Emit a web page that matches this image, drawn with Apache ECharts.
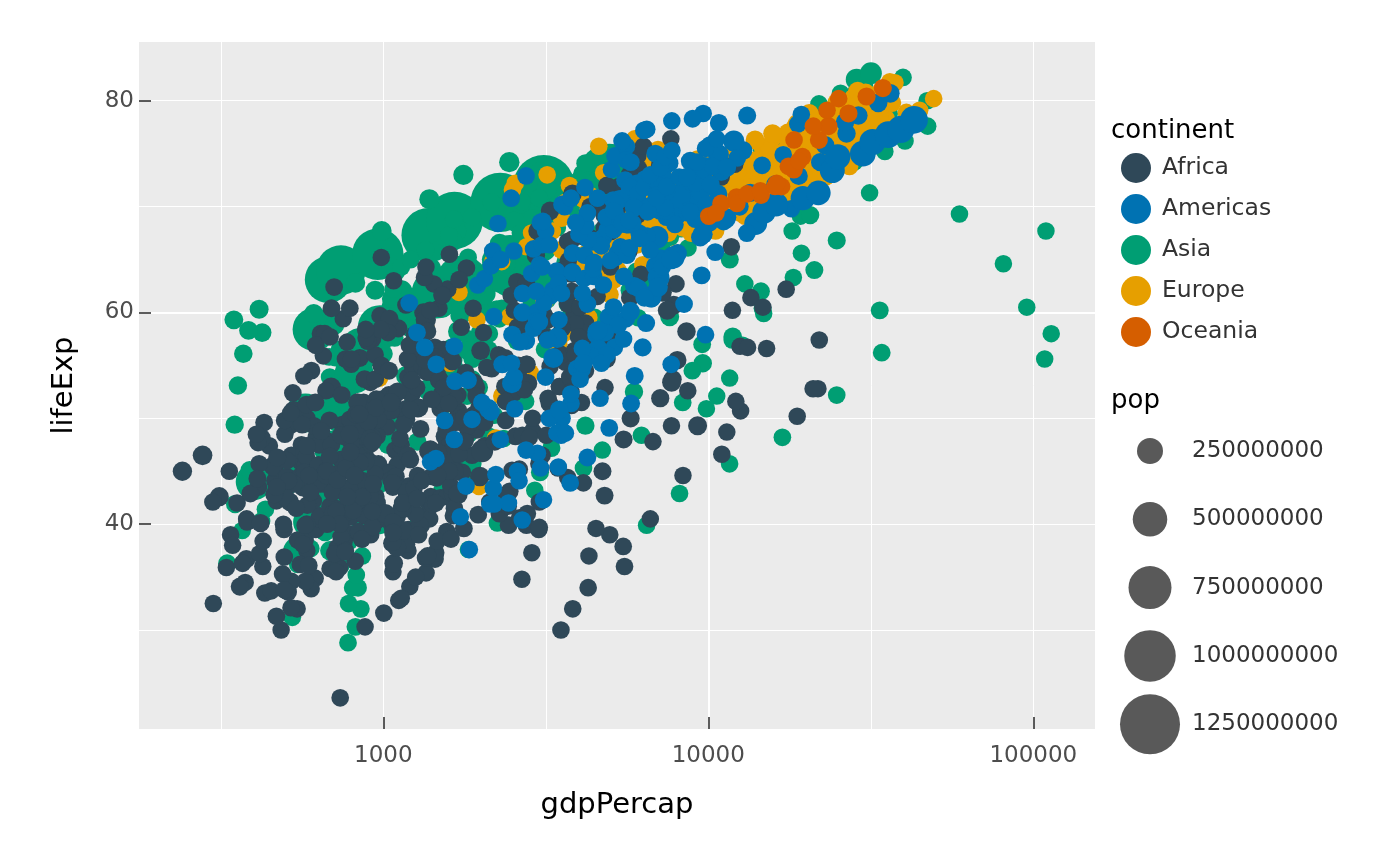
<!DOCTYPE html>
<html>
<head>
<meta charset="utf-8">
<title>gapminder: lifeExp vs gdpPercap</title>
<script src="https://cdn.jsdelivr.net/npm/echarts@6/dist/echarts.min.js"></script>
<style>
  html, body { margin: 0; padding: 0; background: #ffffff; }
  #chart { width: 1400px; height: 866px; }
</style>
</head>
<body>
<div id="chart"></div>
<script>
// one row per country, 12 values per row (1952 .. 2007, every 5 years)
// pop is in millions

var africaGdp = [
  2449, 3014, 2551, 3247, 4183, 4910, 5745, 5681, 5023, 4797, 5288, 6223,
  3521, 3828, 4269, 5523, 5473, 3009, 2757, 2430, 2628, 2277, 2773, 4797,
  1063, 960, 949, 1036, 1086, 1029, 1278, 1226, 1191, 1233, 1373, 1441,
  851, 918, 984, 1215, 2264, 3215, 4551, 6206, 7954, 8647, 11004, 12570,
  543, 617, 722, 795, 855, 743, 807, 912, 932, 946, 1038, 1217,
  339, 380, 355, 413, 464, 556, 560, 622, 632, 463, 446, 430,
  1173, 1313, 1400, 1508, 1684, 1783, 2368, 2603, 1793, 1694, 1934, 2042,
  1071, 1191, 1193, 1137, 1070, 1109, 957, 845, 748, 741, 738, 706,
  1179, 1308, 1390, 1197, 1104, 1134, 798, 952, 1058, 1005, 1156, 1704,
  1103, 1211, 1407, 1876, 1938, 1173, 1267, 1316, 1247, 1174, 1076, 986,
  781, 906, 896, 862, 905, 796, 674, 672, 458, 313, 241, 278,
  2126, 2490, 2679, 3214, 3259, 4880, 4879, 4201, 4016, 3485, 3484, 3633,
  1389, 1501, 1729, 2052, 2379, 2518, 2603, 2157, 1648, 1786, 1649, 1545,
  2670, 2865, 3021, 3020, 3694, 3082, 2880, 2880, 2377, 1896, 1908, 2082,
  1419, 1459, 1693, 1815, 2024, 2785, 3504, 3885, 3795, 4173, 4755, 5581,
  376, 426, 582, 915, 672, 958, 927, 966, 1132, 2815, 7703, 12154,
  329, 344, 381, 469, 515, 505, 525, 521, 582, 913, 765, 641,
  362, 379, 419, 516, 566, 556, 577, 574, 421, 516, 530, 691,
  4293, 4976, 6631, 8359, 11402, 21746, 15113, 11864, 13522, 14723, 12522, 13206,
  485, 520, 600, 734, 757, 884, 836, 612, 666, 654, 661, 753,
  911, 1044, 1190, 1126, 1178, 993, 876, 847, 925, 1005, 1112, 1328,
  510, 576, 686, 708, 741, 874, 857, 805, 795, 870, 945, 943,
  300, 432, 522, 716, 820, 765, 839, 736, 745, 797, 576, 580,
  854, 944, 897, 1057, 1222, 1268, 1348, 1362, 1342, 1360, 1288, 1463,
  299, 336, 412, 498, 497, 745, 797, 774, 977, 1187, 1275, 1569,
  575, 620, 634, 713, 803, 641, 573, 506, 637, 609, 531, 415,
  2388, 3448, 6757, 18773, 21011, 21951, 17364, 11770, 9641, 9468, 9535, 12057,
  1443, 1589, 1644, 1634, 1749, 1545, 1302, 1155, 1040, 986, 895, 1045,
  369, 416, 427, 495, 584, 664, 632, 635, 563, 692, 665, 759,
  452, 490, 496, 545, 581, 686, 618, 684, 740, 790, 952, 1042,
  744, 847, 1055, 1421, 1586, 1497, 1481, 1421, 1361, 1483, 1579, 1803,
  1968, 2034, 2530, 2475, 2575, 3710, 3689, 4783, 6058, 7426, 9022, 10957,
  1688, 1643, 1566, 1711, 1931, 2371, 2703, 2756, 2948, 2982, 3259, 3820,
  469, 496, 556, 566, 725, 502, 462, 390, 410, 472, 634, 824,
  2424, 2622, 3173, 3793, 3747, 3876, 4191, 3694, 3805, 3899, 4072, 4811,
  762, 860, 1072, 1054, 954, 809, 909, 668, 582, 580, 601, 620,
  1077, 1101, 1151, 1015, 1698, 1982, 1577, 1385, 1620, 1625, 1615, 2014,
  2719, 2769, 3174, 4021, 4998, 4319, 5268, 5303, 6101, 6072, 6316, 7670,
  493, 540, 597, 511, 591, 670, 882, 848, 737, 590, 786, 863,
  880, 861, 1072, 1385, 1533, 1738, 1890, 1517, 1429, 1339, 1353, 1598,
  1450, 1568, 1655, 1613, 1597, 1562, 1518, 1441, 1367, 1393, 1519, 1712,
  879, 1004, 1116, 1207, 1354, 1349, 1465, 1294, 1069, 575, 699, 863,
  1136, 1258, 1369, 1285, 1254, 1450, 1177, 1094, 927, 931, 882, 926,
  4725, 5487, 5769, 7114, 7765, 8029, 8568, 7826, 7225, 7479, 7710, 9270,
  1615, 1770, 1959, 1687, 1660, 2203, 1895, 1507, 1493, 1632, 1993, 2602,
  1149, 1244, 1597, 1711, 2052, 3782, 3896, 3985, 3553, 3877, 4128, 4513,
  717, 698, 722, 848, 916, 962, 875, 832, 825, 789, 899, 1107,
  859, 926, 1068, 1477, 1650, 1533, 1345, 1203, 1034, 982, 886, 883,
  1469, 1396, 1660, 1932, 2753, 3120, 3561, 3811, 4333, 4877, 5723, 7093,
  735, 775, 768, 908, 950, 844, 683, 618, 644, 816, 927, 1056,
  1147, 1312, 1453, 1777, 1773, 1589, 1409, 1213, 1211, 1071, 1072, 1271,
  407, 519, 527, 570, 799, 686, 789, 706, 693, 792, 672, 470
];
var africaLife = [
  43.1, 45.7, 48.3, 51.4, 54.5, 58.0, 61.4, 65.8, 67.7, 69.2, 71.0, 72.3,
  30.0, 32.0, 34.0, 36.0, 37.9, 39.5, 39.9, 39.9, 40.6, 41.0, 41.0, 42.7,
  38.2, 40.4, 42.6, 44.9, 47.0, 49.2, 50.9, 52.3, 53.9, 54.8, 54.4, 56.7,
  47.6, 49.6, 51.5, 53.3, 56.0, 59.3, 61.5, 63.6, 62.7, 52.6, 46.6, 50.7,
  32.0, 34.9, 37.8, 40.7, 43.6, 46.1, 48.1, 49.6, 50.3, 50.3, 50.7, 52.3,
  39.0, 40.5, 42.0, 43.5, 44.1, 45.9, 47.5, 48.2, 44.7, 45.3, 47.4, 49.6,
  38.5, 40.4, 42.6, 44.8, 47.0, 49.4, 53.0, 55.0, 54.3, 52.2, 49.9, 50.4,
  35.5, 37.5, 39.5, 41.5, 43.5, 46.8, 48.3, 50.5, 49.4, 46.1, 43.3, 44.7,
  38.1, 39.9, 41.7, 43.6, 45.6, 47.4, 49.5, 51.1, 51.7, 51.6, 50.5, 50.7,
  40.7, 42.5, 44.5, 46.5, 48.9, 50.9, 52.9, 54.9, 57.9, 60.7, 63.0, 65.2,
  39.1, 40.7, 42.1, 44.1, 45.9, 47.8, 47.8, 47.4, 45.5, 42.6, 45.0, 46.5,
  42.1, 45.1, 48.4, 51.9, 54.9, 55.6, 56.7, 57.5, 56.4, 53.0, 53.0, 55.3,
  40.5, 42.5, 44.9, 47.4, 49.8, 52.4, 54.0, 54.7, 52.0, 48.0, 46.8, 48.3,
  34.8, 37.3, 39.7, 42.1, 44.4, 46.5, 48.8, 50.0, 51.6, 53.2, 53.4, 54.8,
  41.9, 44.4, 47.0, 49.3, 51.1, 53.3, 56.0, 59.8, 63.7, 67.2, 69.8, 71.3,
  34.5, 36.0, 37.5, 39.0, 40.5, 42.0, 43.7, 45.7, 47.5, 48.2, 49.3, 51.6,
  35.9, 38.0, 40.2, 42.2, 44.1, 44.5, 43.9, 46.5, 50.0, 53.4, 55.6, 58.0,
  34.1, 36.7, 40.1, 42.1, 43.5, 44.5, 44.9, 46.7, 48.1, 49.4, 50.7, 52.9,
  37.0, 39.0, 40.5, 44.6, 48.7, 52.8, 56.6, 60.2, 61.4, 60.5, 56.8, 56.7,
  30.0, 32.1, 33.9, 35.9, 38.3, 41.8, 45.6, 49.3, 52.6, 55.9, 58.0, 59.4,
  43.1, 44.8, 46.5, 48.1, 49.9, 51.8, 53.7, 55.7, 57.5, 58.6, 58.5, 60.0,
  33.6, 34.6, 35.8, 37.2, 38.8, 40.8, 42.9, 45.2, 48.6, 51.5, 53.7, 56.0,
  32.5, 33.5, 34.6, 35.5, 36.5, 37.5, 39.3, 41.2, 43.3, 44.9, 45.5, 46.4,
  42.3, 44.7, 47.9, 50.7, 53.6, 56.2, 58.8, 59.3, 59.3, 54.4, 51.0, 54.1,
  42.1, 45.0, 47.7, 48.5, 49.8, 52.2, 55.1, 57.2, 59.7, 55.6, 44.6, 42.6,
  38.5, 39.5, 40.5, 41.5, 42.6, 43.8, 44.9, 46.0, 40.8, 42.2, 43.8, 45.7,
  42.7, 45.3, 47.8, 50.2, 52.8, 57.4, 62.2, 66.2, 68.8, 70.9, 72.7, 74.0,
  36.7, 38.9, 40.8, 42.9, 44.9, 46.9, 49.0, 49.4, 52.2, 55.0, 57.3, 59.4,
  36.3, 37.2, 38.4, 39.5, 41.8, 43.8, 45.6, 47.5, 49.4, 47.5, 45.0, 48.3,
  33.7, 35.3, 36.9, 38.5, 40.0, 41.7, 43.9, 46.4, 48.4, 49.9, 51.8, 54.5,
  40.5, 42.3, 44.2, 46.3, 48.4, 50.9, 53.6, 56.1, 58.3, 60.4, 62.2, 64.2,
  51.0, 58.1, 60.2, 61.6, 62.9, 64.9, 66.7, 68.0, 69.2, 71.0, 72.0, 72.8,
  42.9, 45.4, 47.9, 50.3, 52.9, 55.7, 59.6, 62.7, 65.4, 67.7, 69.6, 71.2,
  31.3, 33.8, 36.2, 38.1, 40.3, 42.5, 42.8, 42.9, 44.3, 46.3, 44.0, 42.1,
  41.7, 45.2, 48.4, 51.2, 53.9, 56.4, 59.0, 60.8, 62.0, 58.9, 51.5, 52.9,
  37.4, 38.6, 39.5, 40.1, 40.5, 41.3, 42.6, 44.6, 47.4, 51.3, 54.5, 56.9,
  36.3, 37.8, 39.4, 41.0, 42.8, 44.5, 45.8, 46.9, 47.5, 47.5, 46.6, 46.9,
  52.7, 55.1, 57.7, 60.5, 64.3, 67.1, 69.9, 71.9, 73.6, 74.8, 75.7, 76.4,
  40.0, 41.5, 43.0, 44.1, 44.6, 45.0, 46.2, 44.0, 23.6, 36.1, 43.4, 46.2,
  46.5, 48.9, 51.9, 54.4, 56.5, 58.6, 60.4, 61.7, 62.7, 63.3, 64.3, 65.5,
  37.3, 39.3, 41.5, 43.6, 45.8, 48.9, 52.4, 55.8, 58.2, 60.2, 61.6, 63.1,
  30.3, 31.6, 32.8, 34.1, 35.4, 36.8, 38.4, 40.0, 38.3, 39.9, 41.0, 42.6,
  33.0, 35.0, 37.0, 39.0, 41.0, 42.0, 43.0, 44.5, 39.7, 43.8, 45.9, 48.2,
  45.0, 48.0, 50.0, 51.9, 53.7, 55.5, 58.2, 60.7, 61.9, 60.2, 53.4, 49.3,
  38.6, 39.6, 40.9, 42.9, 45.0, 47.8, 50.3, 51.7, 53.6, 55.4, 56.4, 58.6,
  41.4, 43.4, 45.0, 46.6, 49.6, 52.5, 56.0, 57.7, 58.5, 54.3, 43.9, 39.6,
  41.2, 43.0, 44.2, 45.8, 47.6, 49.9, 50.6, 51.5, 50.4, 48.5, 49.7, 52.5,
  38.6, 41.2, 43.9, 46.8, 49.8, 52.9, 55.5, 56.9, 58.1, 58.4, 57.6, 58.4,
  44.6, 47.1, 49.6, 52.1, 55.1, 59.8, 64.0, 66.9, 70.0, 72.0, 73.0, 73.9,
  40.0, 42.6, 45.3, 48.1, 51.0, 50.4, 49.8, 51.5, 48.8, 44.6, 47.8, 51.5,
  42.0, 44.1, 46.0, 47.8, 50.1, 51.4, 51.8, 50.8, 46.1, 40.2, 39.2, 42.4,
  48.5, 50.5, 52.4, 54.0, 55.6, 57.7, 60.4, 62.4, 60.4, 46.8, 40.0, 43.5
];
var africaPop = [
  9.3, 10.3, 11.0, 12.8, 14.8, 17.2, 20.0, 23.3, 26.3, 29.1, 31.3, 33.3,
  4.2, 4.6, 4.8, 5.2, 5.9, 6.2, 7.0, 7.9, 8.7, 9.9, 10.9, 12.4,
  1.7, 1.9, 2.2, 2.4, 2.8, 3.2, 3.6, 4.2, 5.0, 6.1, 7.0, 8.1,
  0.4, 0.5, 0.5, 0.6, 0.7, 0.8, 1.0, 1.2, 1.3, 1.5, 1.6, 1.6,
  4.5, 4.7, 4.9, 5.1, 5.4, 5.9, 6.6, 7.6, 8.9, 10.4, 12.3, 14.3,
  2.4, 2.7, 2.9, 3.3, 3.5, 3.8, 4.6, 5.1, 5.8, 6.1, 7.0, 8.4,
  5.0, 5.4, 5.8, 6.3, 7.0, 8.0, 9.3, 10.8, 12.5, 14.2, 15.9, 17.7,
  1.3, 1.4, 1.5, 1.7, 1.8, 2.0, 2.5, 2.8, 3.3, 3.7, 4.0, 4.4,
  2.7, 2.9, 3.2, 3.5, 3.9, 4.4, 4.9, 5.5, 6.4, 7.6, 8.8, 10.2,
  0.2, 0.2, 0.2, 0.2, 0.3, 0.3, 0.4, 0.4, 0.5, 0.5, 0.6, 0.7,
  14.1, 15.6, 17.5, 19.9, 23.0, 26.5, 30.6, 35.5, 41.7, 47.8, 55.4, 64.6,
  0.9, 0.9, 1.1, 1.2, 1.3, 1.5, 1.8, 2.1, 2.4, 2.8, 3.3, 3.8,
  3.0, 3.3, 3.8, 4.7, 6.1, 7.5, 9.0, 10.8, 12.5, 14.6, 16.3, 18.0,
  0.1, 0.1, 0.1, 0.1, 0.2, 0.2, 0.3, 0.4, 0.4, 0.4, 0.5, 0.5,
  22.2, 25.0, 28.2, 31.7, 34.8, 38.8, 45.7, 52.8, 59.4, 66.1, 73.3, 80.3,
  0.2, 0.2, 0.3, 0.3, 0.3, 0.2, 0.3, 0.3, 0.4, 0.4, 0.5, 0.6,
  1.4, 1.5, 1.7, 1.8, 2.3, 2.5, 2.6, 2.9, 3.7, 3.4, 4.4, 4.9,
  20.9, 22.8, 25.1, 27.9, 31.2, 34.6, 38.1, 43.0, 52.1, 59.9, 67.9, 76.5,
  0.4, 0.4, 0.5, 0.5, 0.5, 0.7, 0.8, 0.9, 1.0, 1.1, 1.3, 1.5,
  0.3, 0.3, 0.4, 0.4, 0.5, 0.6, 0.7, 0.9, 1.0, 1.2, 1.5, 1.7,
  5.6, 6.4, 7.4, 8.5, 9.4, 10.5, 11.4, 14.2, 16.3, 18.4, 20.6, 22.9,
  2.7, 3.1, 3.3, 3.5, 3.9, 4.2, 4.7, 5.1, 7.0, 8.0, 8.8, 9.9,
  0.6, 0.6, 0.6, 0.6, 0.6, 0.8, 0.8, 0.9, 1.1, 1.2, 1.3, 1.5,
  6.5, 7.5, 8.7, 10.2, 12.0, 14.5, 17.7, 21.2, 25.0, 28.3, 31.4, 35.6,
  0.8, 0.8, 0.9, 0.9, 1.1, 1.3, 1.4, 1.6, 1.8, 2.0, 2.1, 2.0,
  0.9, 1.0, 1.1, 1.3, 1.5, 1.7, 2.0, 2.3, 1.9, 2.2, 2.7, 3.2,
  1.0, 1.2, 1.4, 1.8, 2.2, 2.7, 3.3, 3.8, 4.4, 4.8, 5.4, 6.0,
  4.8, 5.2, 5.7, 6.3, 7.1, 8.0, 9.2, 10.6, 12.2, 14.2, 16.5, 19.2,
  2.9, 3.2, 3.6, 4.1, 4.7, 5.6, 6.5, 7.8, 10.0, 10.4, 11.8, 13.3,
  3.8, 4.2, 4.7, 5.3, 5.8, 6.5, 7.0, 7.6, 8.4, 9.4, 10.6, 12.0,
  1.0, 1.1, 1.1, 1.3, 1.3, 1.4, 1.6, 1.8, 2.1, 2.4, 2.8, 3.3,
  0.5, 0.6, 0.7, 0.8, 0.9, 0.9, 1.0, 1.0, 1.1, 1.2, 1.2, 1.3,
  9.9, 11.4, 13.1, 14.8, 16.7, 18.4, 20.2, 23.0, 25.8, 28.5, 31.2, 33.8,
  6.4, 7.0, 7.8, 8.7, 9.8, 11.1, 12.6, 12.9, 13.2, 16.6, 18.5, 20.0,
  0.5, 0.6, 0.6, 0.7, 0.8, 1.0, 1.1, 1.3, 1.6, 1.8, 2.0, 2.1,
  3.4, 3.7, 4.1, 4.5, 5.1, 5.7, 6.4, 7.3, 8.4, 9.7, 11.1, 12.9,
  33.1, 37.2, 41.9, 47.3, 53.7, 62.2, 73.0, 81.6, 93.4, 106.2, 119.9, 135.0,
  0.3, 0.3, 0.4, 0.4, 0.5, 0.5, 0.5, 0.6, 0.6, 0.7, 0.7, 0.8,
  2.5, 2.7, 3.1, 3.5, 4.0, 4.7, 5.5, 6.3, 7.3, 7.2, 7.9, 8.9,
  0.1, 0.1, 0.1, 0.1, 0.1, 0.1, 0.1, 0.1, 0.1, 0.2, 0.2, 0.2,
  2.8, 3.1, 3.4, 4.0, 4.6, 5.3, 6.1, 7.0, 8.3, 9.5, 10.9, 12.3,
  2.1, 2.3, 2.5, 2.7, 2.9, 3.1, 3.5, 3.9, 4.3, 4.6, 5.4, 6.1,
  2.5, 2.7, 3.1, 3.4, 3.8, 4.4, 5.8, 6.2, 6.1, 6.6, 7.8, 9.1,
  14.3, 16.2, 18.4, 21.0, 23.9, 27.1, 31.1, 35.9, 40.0, 42.8, 44.4, 44.0,
  8.5, 9.8, 11.2, 12.7, 14.6, 17.1, 20.4, 24.7, 28.2, 32.2, 37.1, 42.3,
  0.3, 0.3, 0.4, 0.4, 0.5, 0.6, 0.7, 0.8, 1.0, 1.1, 1.1, 1.1,
  8.3, 9.5, 10.9, 12.6, 14.7, 17.1, 19.8, 23.0, 26.6, 30.7, 34.6, 38.1,
  1.2, 1.4, 1.5, 1.7, 2.1, 2.3, 2.6, 3.2, 3.7, 4.3, 5.0, 5.7,
  3.6, 4.0, 4.3, 4.8, 5.3, 6.0, 6.7, 7.7, 8.5, 9.2, 9.8, 10.3,
  5.8, 6.7, 7.7, 8.9, 10.2, 11.5, 12.9, 15.3, 18.3, 21.2, 24.7, 29.2,
  2.7, 3.0, 3.4, 3.9, 4.5, 5.2, 6.1, 7.3, 8.4, 9.4, 10.6, 11.7,
  3.1, 3.6, 4.3, 5.0, 5.9, 6.6, 7.6, 9.2, 10.7, 11.4, 11.9, 12.3
];

var americasGdp = [
  5911, 6857, 7133, 8053, 9443, 10079, 8998, 9140, 9308, 10967, 8798, 12779,
  2677, 2128, 2181, 2587, 2980, 3548, 3157, 2754, 2962, 3326, 3413, 3822,
  2109, 2487, 3337, 3430, 4986, 6660, 7031, 7807, 6950, 7958, 8131, 9066,
  11367, 12490, 13462, 16077, 18971, 22091, 22899, 26627, 26343, 28955, 33329, 36319,
  3940, 4316, 4519, 5107, 5494, 4757, 5096, 5547, 7596, 10118, 10779, 13172,
  2144, 2324, 2492, 2679, 3265, 3816, 4398, 4903, 5445, 6118, 5755, 7007,
  2628, 2990, 3461, 4161, 5119, 5489, 5036, 5160, 5599, 6465, 7723, 9645,
  5587, 6092, 5181, 5690, 5305, 6380, 7317, 7533, 5593, 5432, 6341, 8948,
  1398, 1545, 1662, 1653, 2189, 2682, 2862, 2900, 3045, 3614, 4564, 6025,
  3522, 3781, 4086, 4580, 5281, 6680, 7213, 6482, 7104, 7430, 5773, 6873,
  3048, 3421, 3777, 4359, 4520, 5139, 4098, 4141, 4444, 5155, 5352, 5728,
  2428, 2617, 2750, 3243, 4031, 4880, 4820, 4247, 4439, 4684, 4858, 5186,
  1840, 1726, 1797, 1452, 1654, 1875, 2011, 1823, 1456, 1342, 1270, 1202,
  2195, 2220, 2292, 2538, 2529, 3203, 3121, 3023, 3082, 3160, 3099, 3548,
  2899, 4757, 5246, 6125, 7434, 6650, 6068, 6351, 7405, 7122, 6995, 7321,
  3478, 4132, 4582, 5755, 7011, 7675, 9611, 8688, 9472, 9767, 10742, 11978,
  3112, 3457, 3634, 4644, 4689, 5487, 3471, 2955, 2171, 2253, 2475, 2749,
  2480, 2961, 3536, 4421, 5364, 5352, 7009, 7035, 6619, 7114, 7357, 9809,
  1952, 2047, 2148, 2299, 2523, 3248, 4259, 3999, 4197, 4247, 3783, 4173,
  3759, 4246, 4957, 5788, 5938, 6281, 6435, 6361, 4446, 5838, 5909, 7409,
  3082, 3908, 5108, 6930, 9123, 9771, 10331, 12281, 14642, 16999, 18856, 19329,
  3023, 4100, 4997, 5621, 6620, 7899, 9119, 7389, 7370, 8793, 11461, 18009,
  13990, 14847, 16173, 19530, 21806, 24073, 25010, 29884, 32004, 35767, 39097, 42952,
  5717, 6151, 5603, 5445, 5703, 6504, 6920, 7452, 8138, 9230, 7727, 10611,
  7690, 9803, 8423, 9541, 10506, 13144, 11153, 9884, 10733, 10165, 8606, 11416
];
var americasLife = [
  62.5, 64.4, 65.1, 65.6, 67.1, 68.5, 69.9, 70.8, 71.9, 73.3, 74.3, 75.3,
  40.4, 41.9, 43.4, 45.0, 46.7, 50.0, 53.9, 57.3, 60.0, 62.1, 63.9, 65.6,
  50.9, 53.3, 55.7, 57.6, 59.5, 61.5, 63.3, 65.2, 67.1, 69.4, 71.0, 72.4,
  68.8, 70.0, 71.3, 72.1, 72.9, 74.2, 75.8, 76.9, 78.0, 78.6, 79.8, 80.7,
  54.7, 56.1, 57.9, 60.5, 63.4, 67.1, 70.6, 72.5, 74.1, 75.8, 77.9, 78.6,
  50.6, 55.1, 57.9, 60.0, 61.6, 63.8, 66.7, 67.8, 68.4, 70.3, 71.7, 72.9,
  57.2, 60.0, 62.8, 65.4, 67.8, 70.8, 73.5, 74.8, 75.7, 77.3, 78.1, 78.8,
  59.4, 62.3, 65.2, 68.3, 70.7, 72.6, 73.7, 74.2, 74.4, 76.2, 77.2, 78.3,
  45.9, 49.8, 53.5, 56.8, 59.6, 61.8, 63.7, 66.0, 68.5, 70.0, 70.8, 72.2,
  48.4, 51.4, 54.6, 56.7, 58.8, 61.3, 64.3, 67.2, 69.6, 72.3, 74.2, 75.0,
  45.3, 48.6, 52.3, 55.9, 58.2, 56.7, 56.6, 63.2, 66.8, 69.5, 70.7, 71.9,
  42.0, 44.1, 47.0, 50.0, 53.7, 56.0, 58.1, 60.8, 63.4, 66.3, 69.0, 70.3,
  37.6, 40.7, 43.6, 46.2, 48.0, 49.9, 51.5, 53.6, 55.1, 56.7, 58.1, 60.9,
  41.9, 44.7, 48.0, 50.9, 53.9, 57.4, 60.9, 64.5, 66.4, 67.7, 68.6, 70.2,
  58.5, 62.6, 65.6, 67.5, 69.0, 70.1, 71.2, 71.8, 71.8, 72.3, 72.0, 72.6,
  50.8, 55.2, 58.3, 60.1, 62.4, 65.0, 67.4, 69.5, 71.5, 73.7, 74.9, 76.2,
  42.3, 45.4, 48.6, 51.9, 55.2, 57.5, 59.3, 62.0, 65.8, 68.4, 70.8, 72.9,
  55.2, 59.2, 61.8, 64.1, 66.2, 68.7, 70.5, 72.0, 73.0, 73.7, 74.7, 75.5,
  62.6, 63.2, 64.4, 65.0, 65.8, 66.4, 66.9, 67.4, 68.2, 69.4, 70.8, 71.8,
  43.9, 46.3, 49.1, 51.4, 54.0, 56.7, 59.0, 61.4, 64.7, 68.4, 69.9, 71.4,
  64.3, 68.5, 69.6, 71.1, 72.2, 73.4, 73.8, 74.6, 73.9, 74.9, 77.8, 78.7,
  59.1, 61.8, 64.9, 65.4, 65.9, 68.3, 68.8, 69.6, 69.9, 69.5, 69.0, 69.8,
  68.4, 69.5, 70.2, 70.8, 71.3, 73.4, 74.7, 75.0, 76.1, 76.8, 77.3, 78.2,
  66.1, 67.0, 68.3, 68.5, 68.7, 69.5, 70.8, 71.9, 72.8, 74.2, 75.3, 76.4,
  55.1, 57.9, 60.8, 63.5, 65.7, 67.5, 68.6, 70.2, 71.2, 72.1, 72.8, 73.7
];
var americasPop = [
  17.9, 19.6, 21.3, 22.9, 24.8, 27.0, 29.3, 31.6, 34.0, 36.2, 38.3, 40.3,
  2.9, 3.2, 3.6, 4.0, 4.6, 5.1, 5.6, 6.2, 6.9, 7.7, 8.4, 9.1,
  56.6, 65.6, 76.0, 88.0, 100.8, 114.3, 128.9, 142.9, 156.0, 168.5, 179.9, 190.0,
  14.8, 17.0, 19.0, 20.8, 22.3, 23.8, 25.2, 26.5, 28.5, 30.3, 31.9, 33.4,
  6.4, 7.0, 8.0, 8.9, 9.7, 10.6, 11.5, 12.5, 13.6, 14.6, 15.5, 16.3,
  12.4, 14.5, 17.0, 19.8, 22.5, 25.1, 27.8, 31.0, 34.2, 37.7, 41.0, 44.2,
  0.9, 1.1, 1.3, 1.6, 1.8, 2.1, 2.4, 2.8, 3.2, 3.5, 3.8, 4.1,
  6.0, 6.6, 7.3, 8.1, 8.8, 9.5, 9.8, 10.2, 10.7, 11.0, 11.2, 11.4,
  2.5, 2.9, 3.5, 4.0, 4.7, 5.3, 6.0, 6.7, 7.4, 8.0, 8.7, 9.3,
  3.5, 4.1, 4.7, 5.4, 6.3, 7.3, 8.4, 9.5, 10.7, 12.0, 12.9, 13.8,
  2.0, 2.3, 2.7, 3.2, 3.8, 4.3, 4.5, 4.8, 5.3, 5.8, 6.4, 6.9,
  3.1, 3.6, 4.2, 4.7, 5.4, 6.2, 7.0, 7.9, 9.0, 10.3, 11.2, 12.6,
  3.2, 3.5, 3.9, 4.3, 4.7, 5.0, 5.2, 5.7, 6.3, 6.9, 7.6, 8.5,
  1.5, 1.8, 2.1, 2.5, 2.9, 3.3, 3.7, 4.4, 5.1, 5.9, 6.7, 7.5,
  1.4, 1.5, 1.7, 1.9, 2.0, 2.2, 2.3, 2.3, 2.4, 2.5, 2.7, 2.8,
  30.1, 35.0, 41.1, 48.0, 56.0, 63.8, 71.6, 80.1, 88.1, 95.9, 102.5, 108.7,
  1.2, 1.4, 1.6, 1.9, 2.2, 2.6, 3.0, 3.3, 4.0, 4.6, 5.1, 5.7,
  0.9, 1.1, 1.2, 1.4, 1.6, 1.8, 2.0, 2.3, 2.5, 2.7, 3.0, 3.2,
  1.6, 1.8, 2.0, 2.3, 2.6, 3.0, 3.4, 4.0, 4.5, 5.2, 5.9, 6.7,
  8.0, 9.1, 10.5, 12.1, 14.0, 16.0, 18.1, 20.2, 22.4, 25.0, 26.8, 28.7,
  2.2, 2.3, 2.4, 2.7, 2.8, 3.1, 3.3, 3.4, 3.6, 3.8, 3.9, 3.9,
  0.7, 0.8, 0.9, 1.0, 1.0, 1.0, 1.1, 1.2, 1.2, 1.1, 1.1, 1.1,
  157.6, 172.0, 186.5, 198.7, 209.9, 220.2, 232.2, 242.8, 256.9, 272.9, 287.7, 301.1,
  2.3, 2.4, 2.5, 2.7, 2.8, 2.9, 3.0, 3.0, 3.1, 3.2, 3.4, 3.4,
  5.4, 6.7, 8.1, 9.7, 11.5, 13.5, 15.6, 17.9, 20.3, 22.9, 24.3, 26.1
];

var asiaGdp = [
  779, 821, 853, 836, 740, 786, 978, 852, 649, 635, 727, 975,
  9867, 11636, 12753, 14805, 18269, 19340, 19211, 18524, 19036, 20292, 23404, 29796,
  684, 662, 686, 721, 630, 660, 677, 752, 838, 973, 1136, 1391,
  368, 434, 497, 523, 422, 525, 624, 684, 682, 734, 896, 1714,
  400, 576, 488, 613, 677, 741, 962, 1379, 1656, 2289, 3119, 4959,
  3054, 3629, 4693, 6198, 8316, 11186, 14561, 20038, 24758, 28378, 30209, 39725,
  547, 590, 658, 700, 724, 813, 856, 977, 1164, 1459, 1747, 2452,
  750, 859, 849, 762, 1111, 1383, 1517, 1748, 2383, 3119, 2874, 3541,
  3035, 3290, 4187, 5907, 9613, 11889, 7608, 6642, 7235, 8264, 9241, 11606,
  4130, 6229, 8342, 8931, 9576, 14688, 14518, 11644, 3746, 3076, 4391, 4471,
  4087, 5385, 7106, 8393, 12786, 13306, 15367, 17122, 18051, 20897, 21905, 25523,
  3217, 4318, 6577, 9848, 14779, 16610, 19384, 22376, 26825, 28817, 28605, 31656,
  1547, 1886, 2348, 2742, 2110, 2852, 4161, 4449, 3431, 3645, 3845, 4519,
  1088, 1571, 1622, 2144, 3702, 4106, 4106, 4106, 3726, 1691, 1647, 1593,
  1031, 1488, 1536, 2029, 3031, 4657, 5623, 8533, 12104, 15994, 19234, 23348,
  108382, 113523, 95458, 80895, 109348, 59265, 31354, 28118, 34933, 40301, 35110, 47307,
  4835, 6090, 5715, 6006, 7486, 8659, 7641, 5377, 6891, 8755, 9314, 10461,
  1831, 1810, 2037, 2278, 2849, 3828, 4920, 5249, 7278, 10132, 10207, 12452,
  787, 912, 1056, 1226, 1421, 1648, 1842, 2155, 1784, 1902, 2140, 3096,
  331, 350, 388, 349, 357, 371, 424, 385, 347, 415, 611, 944,
  546, 598, 652, 676, 675, 695, 718, 776, 897, 1011, 1057, 1091,
  1828, 2243, 2925, 4721, 10618, 11848, 12955, 18115, 18617, 19702, 19775, 22316,
  685, 747, 803, 943, 1050, 1176, 1443, 1705, 1972, 2049, 2092, 2606,
  1273, 1548, 1650, 1814, 1989, 2374, 2603, 2190, 2279, 2537, 2651, 3190,
  6460, 8157, 11627, 16903, 24837, 34168, 33693, 21199, 24841, 20587, 19014, 21655,
  2315, 2843, 3675, 4977, 8597, 11210, 15169, 18862, 24769, 33519, 36023, 47143,
  1084, 1073, 1074, 1136, 1213, 1349, 1649, 1877, 2154, 2664, 3016, 3970,
  1644, 2117, 2194, 1882, 2572, 3195, 3762, 3116, 3341, 4014, 4091, 4185,
  1207, 1508, 1823, 2644, 4063, 5597, 7426, 11054, 15216, 20207, 23235, 28718,
  757, 794, 1002, 1296, 1524, 1961, 2394, 2982, 4617, 5853, 5913, 7458,
  605, 676, 772, 637, 700, 714, 708, 821, 989, 1386, 1764, 2442,
  1516, 1827, 2199, 2650, 3134, 3683, 4337, 5069, 6018, 7111, 4516, 3026,
  782, 805, 826, 862, 1266, 1830, 1978, 1972, 1880, 2117, 2235, 2281
];
var asiaLife = [
  28.8, 30.3, 32.0, 34.0, 36.1, 38.4, 39.9, 40.8, 41.7, 41.8, 42.1, 43.8,
  50.9, 53.8, 56.9, 59.9, 63.3, 65.6, 69.1, 70.8, 72.6, 73.9, 74.8, 75.6,
  37.5, 39.3, 41.2, 43.5, 45.3, 46.9, 50.0, 52.8, 56.0, 59.4, 62.0, 64.1,
  39.4, 41.4, 43.4, 45.4, 40.3, 31.2, 51.0, 53.9, 55.8, 56.5, 56.8, 59.7,
  44.0, 50.5, 44.5, 58.4, 63.1, 64.0, 65.5, 67.3, 68.7, 70.4, 72.0, 73.0,
  61.0, 64.8, 67.7, 70.0, 72.0, 73.6, 75.5, 76.2, 77.6, 80.0, 81.5, 82.2,
  37.4, 40.2, 43.6, 47.2, 50.7, 54.2, 56.6, 58.6, 60.2, 61.8, 62.9, 64.7,
  37.5, 39.9, 42.5, 46.0, 49.2, 52.7, 56.2, 60.1, 62.7, 66.0, 68.6, 70.7,
  44.9, 47.2, 49.3, 52.5, 55.2, 57.7, 59.6, 63.0, 65.7, 68.0, 69.5, 71.0,
  45.3, 48.4, 51.5, 54.5, 57.0, 60.4, 62.0, 65.0, 59.5, 58.8, 57.0, 59.5,
  65.4, 67.8, 69.4, 70.8, 71.6, 73.1, 74.5, 75.6, 76.9, 78.3, 79.7, 80.7,
  63.0, 65.5, 68.7, 71.4, 73.4, 75.4, 77.1, 78.7, 79.4, 80.7, 82.0, 82.6,
  43.2, 45.7, 48.1, 51.6, 56.5, 61.1, 63.7, 65.9, 68.0, 69.8, 71.3, 72.5,
  50.1, 54.1, 56.7, 59.9, 64.0, 67.2, 69.1, 70.6, 70.0, 67.7, 66.7, 67.3,
  47.5, 52.7, 55.3, 57.7, 62.6, 64.8, 67.1, 69.8, 72.2, 74.6, 77.0, 78.6,
  55.6, 58.0, 60.5, 64.6, 67.7, 69.3, 71.3, 74.2, 75.2, 76.2, 76.9, 77.6,
  55.9, 59.5, 62.1, 63.9, 65.4, 66.1, 67.1, 67.9, 69.3, 70.3, 71.0, 72.0,
  48.5, 52.1, 55.7, 59.4, 63.0, 65.3, 68.0, 69.5, 70.7, 71.9, 73.0, 74.2,
  42.2, 45.2, 48.3, 51.3, 53.8, 55.5, 57.5, 60.2, 61.3, 63.6, 65.0, 66.8,
  36.3, 41.9, 45.1, 49.4, 53.1, 56.1, 58.1, 58.3, 59.3, 60.3, 59.9, 62.1,
  36.2, 37.7, 39.4, 41.2, 44.0, 46.7, 49.6, 52.5, 55.7, 59.4, 61.3, 63.8,
  37.6, 40.1, 43.2, 47.0, 52.1, 57.4, 62.7, 67.7, 71.2, 72.5, 74.2, 75.6,
  43.4, 45.6, 47.7, 49.8, 51.9, 54.0, 56.2, 58.2, 60.1, 61.8, 63.6, 65.5,
  47.8, 51.3, 54.8, 56.4, 58.1, 60.1, 62.1, 64.2, 66.5, 68.6, 70.3, 71.7,
  39.9, 42.9, 45.7, 48.2, 52.2, 56.2, 60.2, 64.0, 66.8, 69.2, 71.6, 72.8,
  60.4, 63.2, 65.8, 67.9, 69.5, 70.8, 71.8, 73.6, 75.8, 77.2, 78.8, 80.0,
  57.6, 61.5, 62.2, 64.3, 65.0, 65.9, 68.8, 69.0, 70.4, 70.5, 70.8, 72.4,
  45.9, 48.3, 50.3, 53.7, 57.3, 61.2, 64.6, 67.0, 69.2, 71.5, 73.1, 74.1,
  58.5, 62.4, 65.2, 67.5, 69.4, 70.6, 72.2, 73.4, 74.3, 75.3, 77.0, 78.4,
  50.8, 53.6, 56.1, 58.3, 60.4, 62.5, 64.6, 66.1, 67.3, 67.5, 68.6, 70.6,
  40.4, 42.9, 45.4, 47.8, 50.3, 55.8, 58.8, 62.8, 67.7, 70.7, 73.0, 74.2,
  43.2, 45.7, 48.1, 51.6, 56.5, 60.8, 64.4, 67.1, 69.7, 71.1, 72.4, 73.4,
  32.5, 34.0, 35.2, 37.0, 39.8, 44.2, 49.1, 52.9, 55.6, 58.0, 60.3, 62.7
];
var asiaPop = [
  8.4, 9.2, 10.3, 11.5, 13.1, 14.9, 12.9, 13.9, 16.3, 22.2, 25.3, 31.9,
  0.1, 0.1, 0.2, 0.2, 0.2, 0.3, 0.4, 0.5, 0.5, 0.6, 0.7, 0.7,
  46.9, 51.4, 56.8, 62.8, 70.8, 80.4, 93.1, 103.8, 113.7, 123.3, 135.7, 150.4,
  4.7, 5.3, 6.1, 7.0, 7.5, 7.0, 7.3, 8.4, 10.2, 11.8, 12.9, 14.1,
  556.3, 637.4, 665.8, 754.6, 862.0, 943.5, 1000.3, 1084.0, 1165.0, 1230.1, 1280.4, 1318.7,
  2.1, 2.7, 3.3, 3.7, 4.1, 4.6, 5.3, 5.6, 5.8, 6.5, 6.8, 7.0,
  372.0, 409.0, 454.0, 506.0, 567.0, 634.0, 708.0, 788.0, 872.0, 959.0, 1034.2, 1110.4,
  82.1, 90.1, 99.0, 109.3, 121.3, 136.7, 153.3, 169.3, 184.8, 199.3, 211.1, 223.5,
  17.3, 19.8, 22.9, 26.5, 30.6, 35.5, 43.1, 51.9, 60.4, 63.5, 66.9, 69.5,
  5.4, 6.2, 7.2, 8.5, 10.1, 11.9, 14.2, 16.5, 17.9, 20.8, 24.0, 27.5,
  1.6, 2.0, 2.3, 2.7, 3.1, 3.5, 3.9, 4.3, 4.9, 5.5, 6.0, 6.4,
  86.5, 91.6, 95.8, 100.8, 107.2, 113.9, 118.5, 122.1, 124.3, 125.6, 127.1, 127.5,
  0.6, 0.8, 0.9, 1.3, 1.6, 1.9, 2.3, 2.8, 3.9, 4.5, 5.3, 6.1,
  8.9, 9.4, 10.9, 12.6, 14.8, 16.3, 17.6, 19.1, 20.7, 21.6, 22.2, 23.3,
  20.9, 22.6, 26.4, 30.1, 33.5, 36.4, 39.3, 41.6, 43.8, 46.2, 48.0, 49.0,
  0.2, 0.2, 0.4, 0.6, 0.8, 1.1, 1.5, 1.9, 1.4, 1.8, 2.1, 2.5,
  1.4, 1.6, 1.9, 2.2, 2.7, 3.1, 3.1, 3.0, 3.2, 3.6, 3.7, 3.9,
  6.7, 7.7, 8.9, 10.2, 11.4, 12.8, 14.4, 16.3, 18.3, 20.5, 22.7, 24.8,
  0.8, 0.9, 1.0, 1.2, 1.3, 1.5, 1.7, 2.0, 2.3, 2.5, 2.7, 2.9,
  20.1, 21.7, 23.6, 25.9, 28.5, 31.5, 34.7, 38.0, 40.5, 43.2, 45.6, 47.8,
  9.2, 9.7, 10.3, 11.3, 12.4, 13.9, 15.8, 17.9, 20.3, 23.0, 25.9, 28.9,
  0.5, 0.6, 0.6, 0.7, 0.8, 1.0, 1.3, 1.6, 1.9, 2.3, 2.7, 3.2,
  41.3, 46.7, 53.1, 60.6, 69.3, 78.2, 91.5, 105.2, 120.1, 135.6, 153.4, 169.3,
  22.4, 26.1, 30.3, 35.4, 40.9, 46.9, 53.5, 60.0, 67.2, 75.0, 83.0, 91.1,
  4.0, 4.4, 4.9, 5.6, 6.5, 8.1, 11.3, 14.6, 16.9, 21.2, 24.5, 27.6,
  1.1, 1.4, 1.8, 2.0, 2.2, 2.3, 2.7, 2.8, 3.2, 3.8, 4.2, 4.6,
  8.0, 9.1, 10.4, 11.7, 13.0, 14.1, 15.4, 16.5, 17.6, 18.7, 19.6, 20.4,
  3.7, 4.1, 4.8, 5.7, 6.7, 7.9, 9.4, 11.2, 13.2, 15.1, 17.2, 19.3,
  8.6, 10.2, 11.9, 13.6, 15.2, 16.8, 18.5, 19.8, 20.7, 21.6, 22.5, 23.2,
  21.3, 25.0, 28.5, 34.0, 39.3, 44.6, 48.8, 52.5, 56.7, 60.2, 62.8, 65.1,
  26.2, 29.0, 33.8, 39.5, 44.7, 50.5, 56.1, 62.8, 69.9, 76.0, 80.9, 85.3,
  1.0, 1.1, 1.1, 1.1, 1.1, 1.3, 1.5, 1.7, 2.1, 2.8, 3.4, 4.0,
  5.0, 5.5, 6.1, 6.7, 7.4, 8.4, 9.7, 11.2, 13.4, 15.8, 18.7, 22.2
];

var europeGdp = [
  1601, 1942, 2313, 2760, 3313, 3533, 3631, 3739, 2497, 3193, 4604, 5937,
  6137, 8843, 10751, 12835, 16662, 19749, 21597, 23688, 27042, 29096, 32418, 36126,
  8343, 9715, 10991, 13149, 16672, 19118, 20980, 22526, 25576, 27561, 30486, 33693,
  974, 1354, 1710, 2172, 2860, 3528, 4127, 4314, 2547, 4766, 6019, 7446,
  2444, 3009, 4255, 5578, 6597, 7612, 8225, 8240, 6303, 5970, 7697, 10681,
  3119, 4338, 5478, 6960, 9164, 11305, 13222, 13823, 8448, 9876, 11628, 14619,
  6876, 8256, 10137, 11399, 13108, 14800, 15377, 16310, 14297, 16049, 17596, 22833,
  9692, 11100, 13583, 15937, 18866, 20423, 21688, 25116, 26407, 29804, 32167, 35278,
  6425, 7545, 9372, 10922, 14359, 15605, 18533, 21141, 20647, 23724, 28205, 33207,
  7030, 8663, 10560, 13000, 16107, 18293, 20294, 22066, 24704, 25890, 28926, 30470,
  7144, 10188, 12902, 14746, 18016, 20513, 22032, 24639, 26505, 27789, 30036, 32170,
  3531, 4916, 6017, 8513, 12725, 14196, 15268, 16121, 17541, 18748, 22514, 27538,
  5264, 6040, 7550, 9326, 10168, 11674, 12546, 12986, 10536, 11712, 14843, 18009,
  7268, 9245, 10350, 13320, 15798, 19655, 23270, 26923, 25144, 28061, 31163, 36181,
  5211, 5599, 6632, 7656, 9531, 11151, 12618, 13873, 17558, 24522, 34077, 40676,
  4931, 6249, 8244, 10022, 12269, 14256, 16537, 19208, 22014, 24675, 27968, 28570,
  2648, 3682, 4650, 5907, 7779, 9595, 11222, 11733, 7003, 6466, 6557, 9254,
  8942, 11277, 12791, 15363, 18795, 21210, 21400, 23651, 26791, 30246, 33725, 36798,
  10095, 11654, 13450, 16362, 18965, 23311, 26299, 31541, 33966, 41283, 44684, 49357,
  4029, 4734, 5339, 6557, 8007, 9508, 8452, 9082, 7739, 10160, 12002, 15390,
  3068, 3775, 4728, 6361, 9022, 10172, 11754, 13039, 16207, 17641, 19971, 20510,
  3145, 3944, 5108, 6471, 8011, 9356, 9606, 9696, 6598, 7346, 7886, 10808,
  3581, 4981, 6290, 7991, 10523, 12980, 15181, 15871, 9325, 7915, 7236, 9787,
  5075, 6094, 7481, 8412, 9674, 10923, 11348, 12037, 9498, 12126, 13638, 18678,
  4215, 5862, 7402, 9406, 12383, 15277, 17867, 18678, 14214, 17161, 20660, 25768,
  3834, 4565, 5694, 7994, 10639, 13237, 13926, 15765, 18603, 20445, 24835, 28821,
  8528, 9912, 12329, 15258, 17832, 18856, 20667, 23587, 23880, 25267, 29342, 33860,
  14734, 17909, 20431, 22966, 27196, 26982, 28398, 30282, 31872, 32135, 34481, 37506,
  1969, 2219, 2323, 2826, 3451, 4269, 4241, 5089, 5678, 6601, 6508, 8458,
  9980, 11283, 12477, 14143, 15895, 17429, 18232, 21665, 22705, 26074, 29479, 33203
];
var europeLife = [
  55.2, 59.3, 64.8, 66.2, 67.7, 68.9, 70.4, 72.0, 71.6, 73.0, 75.7, 76.4,
  66.8, 67.5, 69.5, 70.1, 70.6, 72.2, 73.2, 74.9, 76.0, 77.5, 79.0, 79.8,
  68.0, 69.2, 70.3, 70.9, 71.4, 72.8, 73.9, 75.4, 76.5, 77.5, 78.3, 79.4,
  53.8, 58.5, 61.9, 64.8, 67.5, 69.9, 70.7, 71.1, 72.2, 73.2, 74.1, 74.9,
  59.6, 66.6, 69.5, 70.4, 70.9, 70.8, 71.1, 71.3, 71.2, 70.3, 72.1, 73.0,
  61.2, 64.8, 67.1, 68.5, 69.6, 70.6, 70.5, 71.5, 72.5, 73.7, 74.9, 75.7,
  66.9, 69.0, 69.9, 70.4, 70.3, 70.7, 71.0, 71.6, 72.4, 74.0, 75.5, 76.5,
  70.8, 71.8, 72.4, 73.0, 73.5, 74.7, 74.6, 74.8, 75.3, 76.1, 77.2, 78.3,
  66.6, 67.5, 68.8, 69.8, 70.9, 72.5, 74.6, 74.8, 75.7, 77.1, 78.4, 79.3,
  67.4, 68.9, 70.5, 71.6, 72.4, 73.8, 74.9, 76.3, 77.5, 78.6, 79.6, 80.7,
  67.5, 69.1, 70.3, 70.8, 71.0, 72.5, 73.8, 74.8, 76.1, 77.3, 78.7, 79.4,
  65.9, 67.9, 69.5, 71.0, 72.3, 73.7, 75.2, 76.7, 77.0, 77.9, 78.3, 79.5,
  64.0, 66.4, 68.0, 69.5, 69.8, 70.0, 69.4, 69.6, 69.2, 71.0, 72.6, 73.3,
  72.5, 73.5, 73.7, 73.7, 74.5, 76.1, 77.0, 77.2, 78.8, 79.0, 80.5, 81.8,
  66.9, 68.9, 70.3, 71.1, 71.3, 72.0, 73.1, 74.4, 75.5, 76.1, 77.8, 78.9,
  65.9, 67.8, 69.2, 71.1, 72.2, 73.5, 75.0, 76.4, 77.4, 78.8, 80.2, 80.5,
  59.2, 61.4, 64.0, 67.2, 70.6, 73.1, 74.1, 74.9, 75.4, 75.4, 74.0, 74.5,
  72.1, 73.0, 73.2, 73.8, 73.8, 75.2, 76.1, 76.8, 77.4, 78.0, 78.5, 79.8,
  72.7, 73.4, 73.5, 74.1, 74.3, 75.4, 76.0, 75.9, 77.3, 78.3, 79.1, 80.2,
  61.3, 65.8, 67.6, 69.6, 70.9, 70.7, 71.3, 71.0, 71.0, 72.8, 74.7, 75.6,
  59.8, 61.5, 64.4, 66.6, 69.3, 70.4, 72.8, 74.1, 74.9, 76.0, 77.3, 78.1,
  61.1, 64.1, 66.8, 66.8, 69.2, 69.5, 69.7, 69.5, 69.4, 69.7, 71.3, 72.5,
  58.0, 61.7, 64.5, 65.6, 67.7, 69.1, 70.2, 71.2, 71.7, 72.2, 73.2, 74.0,
  64.4, 67.5, 70.3, 71.0, 70.6, 70.5, 70.8, 71.1, 71.4, 72.7, 73.8, 74.7,
  65.6, 67.9, 69.2, 69.2, 69.8, 71.0, 71.1, 72.3, 73.6, 75.1, 76.7, 77.9,
  64.9, 66.7, 69.7, 71.4, 73.1, 74.4, 76.3, 76.9, 77.6, 78.8, 79.8, 80.9,
  71.9, 72.5, 73.4, 74.2, 74.7, 75.4, 76.4, 77.2, 78.2, 79.4, 80.0, 80.9,
  69.6, 70.6, 71.3, 72.8, 73.8, 75.4, 76.2, 77.4, 78.0, 79.4, 80.6, 81.7,
  43.6, 48.1, 52.1, 54.3, 57.0, 59.5, 61.0, 63.1, 66.1, 68.8, 70.8, 71.8,
  69.2, 70.4, 70.8, 71.4, 72.0, 72.8, 74.0, 75.0, 76.4, 77.2, 78.5, 79.4
];
var europePop = [
  1.3, 1.5, 1.7, 2.0, 2.3, 2.5, 2.8, 3.1, 3.3, 3.4, 3.5, 3.6,
  6.9, 7.0, 7.1, 7.4, 7.5, 7.6, 7.6, 7.6, 7.9, 8.1, 8.1, 8.2,
  8.7, 9.0, 9.2, 9.6, 9.7, 9.8, 9.9, 9.9, 10.0, 10.2, 10.3, 10.4,
  2.8, 3.1, 3.3, 3.5, 3.8, 4.1, 4.2, 4.3, 4.3, 3.6, 4.2, 4.6,
  7.3, 7.7, 8.0, 8.3, 8.6, 8.8, 8.9, 9.0, 8.7, 8.1, 7.7, 7.3,
  3.9, 4.0, 4.1, 4.2, 4.2, 4.3, 4.4, 4.5, 4.5, 4.4, 4.5, 4.5,
  9.1, 9.5, 9.6, 9.8, 9.9, 10.2, 10.3, 10.3, 10.3, 10.3, 10.3, 10.2,
  4.3, 4.5, 4.6, 4.8, 5.0, 5.1, 5.1, 5.1, 5.2, 5.3, 5.4, 5.5,
  4.1, 4.3, 4.5, 4.6, 4.6, 4.7, 4.8, 4.9, 5.0, 5.1, 5.2, 5.2,
  42.5, 44.3, 47.1, 49.9, 51.7, 53.2, 54.4, 55.6, 57.4, 58.6, 59.9, 61.1,
  69.1, 71.0, 73.7, 76.4, 78.7, 78.2, 78.3, 77.7, 80.6, 82.0, 82.4, 82.4,
  7.7, 8.1, 8.4, 8.7, 8.9, 9.3, 9.8, 10.0, 10.3, 10.5, 10.6, 10.7,
  9.5, 9.8, 10.1, 10.2, 10.4, 10.6, 10.7, 10.6, 10.3, 10.2, 10.1, 10.0,
  0.2, 0.2, 0.2, 0.2, 0.2, 0.2, 0.2, 0.2, 0.3, 0.3, 0.3, 0.3,
  3.0, 2.9, 2.8, 2.9, 3.0, 3.3, 3.5, 3.5, 3.6, 3.7, 3.9, 4.1,
  47.7, 49.2, 50.8, 52.7, 54.4, 56.1, 56.5, 56.7, 56.8, 57.5, 57.9, 58.1,
  0.4, 0.4, 0.5, 0.5, 0.5, 0.6, 0.6, 0.6, 0.6, 0.6, 0.7, 0.7,
  10.4, 11.0, 11.8, 12.6, 13.3, 13.9, 14.3, 14.7, 15.2, 15.6, 16.1, 16.6,
  3.3, 3.5, 3.6, 3.8, 3.9, 4.0, 4.1, 4.2, 4.3, 4.4, 4.5, 4.6,
  25.7, 28.2, 30.3, 31.8, 33.0, 34.6, 36.2, 37.7, 38.4, 38.7, 38.6, 38.5,
  8.5, 8.8, 9.0, 9.1, 9.0, 9.7, 10.0, 9.9, 9.9, 10.2, 10.4, 10.6,
  16.6, 17.8, 18.7, 19.3, 20.7, 21.7, 22.4, 22.7, 22.8, 22.6, 22.4, 22.3,
  6.9, 7.3, 7.6, 8.0, 8.3, 8.7, 9.0, 9.2, 9.8, 10.3, 10.1, 10.2,
  3.6, 3.8, 4.2, 4.4, 4.6, 4.8, 5.0, 5.2, 5.3, 5.4, 5.4, 5.4,
  1.5, 1.5, 1.6, 1.6, 1.7, 1.7, 1.9, 2.0, 2.0, 2.0, 2.0, 2.0,
  28.5, 29.8, 31.2, 32.9, 34.5, 36.4, 38.0, 38.9, 39.5, 39.9, 40.2, 40.4,
  7.1, 7.4, 7.6, 7.9, 8.1, 8.3, 8.3, 8.4, 8.7, 8.9, 9.0, 9.0,
  4.8, 5.1, 5.7, 6.1, 6.4, 6.3, 6.5, 6.6, 7.0, 7.2, 7.4, 7.6,
  22.2, 25.7, 29.8, 33.4, 37.5, 42.4, 47.3, 52.9, 58.2, 63.0, 67.3, 71.2,
  50.4, 51.4, 53.3, 55.0, 56.1, 56.2, 56.3, 57.0, 57.9, 58.8, 59.9, 60.8
];

var oceaniaGdp = [
  10040, 10950, 12217, 14526, 16789, 18334, 19477, 21889, 23425, 26998, 30688, 34435,
  10557, 12247, 13176, 14464, 16046, 16234, 17632, 19007, 18363, 21050, 23190, 25185
];
var oceaniaLife = [
  69.1, 70.3, 70.9, 71.1, 71.9, 73.5, 74.7, 76.3, 77.6, 78.8, 80.4, 81.2,
  69.4, 70.3, 71.2, 71.5, 71.9, 72.2, 73.8, 74.3, 76.3, 77.6, 79.1, 80.2
];
var oceaniaPop = [
  8.7, 9.7, 10.8, 11.9, 13.2, 14.1, 15.2, 16.3, 17.5, 18.6, 19.5, 20.4,
  2.0, 2.2, 2.5, 2.7, 2.9, 3.2, 3.2, 3.3, 3.4, 3.7, 3.9, 4.1
];

var continents = ['Africa', 'Americas', 'Asia', 'Europe', 'Oceania'];
var continentColors = ['#2F4858', '#0072B2', '#009E73', '#E69F00', '#D55E00'];
var popBreaks = [250000000, 500000000, 750000000, 1000000000, 1250000000];
var xTicks = [1000, 10000, 100000];
var yTicks = [40, 60, 80];

var FONT = 'DejaVu Sans';

// point diameter in px from population in millions
function sizeFor(popM) {
  return 17.5 + 0.034 * popM;
}

function build(gdp, life, pop) {
  var out = [];
  for (var i = 0; i < gdp.length; i++) {
    out.push([gdp[i], life[i], pop[i]]);
  }
  return out;
}

var seriesData = {
  Africa: build(africaGdp, africaLife, africaPop),
  Americas: build(americasGdp, americasLife, americasPop),
  Asia: build(asiaGdp, asiaLife, asiaPop),
  Europe: build(europeGdp, europeLife, europePop),
  Oceania: build(oceaniaGdp, oceaniaLife, oceaniaPop)
};

// drawing order: later series on top
var drawOrder = ['Asia', 'Europe', 'Africa', 'Americas', 'Oceania'];

var series = drawOrder.map(function (name) {
  return {
    name: name,
    type: 'scatter',
    data: seriesData[name],
    symbol: 'circle',
    symbolSize: function (val) { return sizeFor(val[2]); },
    itemStyle: { color: continentColors[continents.indexOf(name)], opacity: 1 },
    emphasis: { disabled: true },
    xAxisIndex: 0,
    yAxisIndex: 0
  };
});

var xMin = 177.2, xMax = 154800;
var yMin = 20.65, yMax = 85.55;

// pop key drawn as graphic, sized with the same mapping as the points
var keyX = 1150, keyY0 = 451, keyStep = 68.3;
var graphics = [];
popBreaks.forEach(function (b, i) {
  var cy = keyY0 + i * keyStep;
  graphics.push({
    type: 'circle',
    shape: { cx: keyX, cy: cy, r: sizeFor(b / 1e6) / 2 },
    style: { fill: '#595959' },
    silent: true
  });
  graphics.push({
    type: 'text',
    x: 1192,
    y: cy,
    style: {
      text: String(b),
      fontSize: 23,
      fontFamily: FONT,
      fill: '#333333',
      verticalAlign: 'middle',
      align: 'left'
    },
    silent: true
  });
});

var chart = echarts.init(document.getElementById('chart'), null, { renderer: 'canvas' });

var option = {
  animation: false,
  backgroundColor: '#ffffff',
  textStyle: { fontFamily: FONT },
  title: [
    { text: 'continent', left: 1111, top: 118, padding: 0,
      textStyle: { fontSize: 26, fontWeight: 'normal', color: '#000000', fontFamily: FONT } },
    { text: 'pop', left: 1111, top: 388, padding: 0,
      textStyle: { fontSize: 26, fontWeight: 'normal', color: '#000000', fontFamily: FONT } }
  ],
  legend: {
    orient: 'vertical',
    left: 1121,
    top: 153,
    padding: 0,
    itemWidth: 42,
    itemHeight: 30,
    itemGap: 11,
    icon: 'circle',
    selectedMode: false,
    data: continents,
    textStyle: { fontSize: 23.5, color: '#333333', fontFamily: FONT }
  },
  grid: {
    left: 139,
    right: 305,
    top: 42,
    bottom: 137,
    show: true,
    backgroundColor: '#EBEBEB',
    borderWidth: 0
  },
  xAxis: [
    {
      type: 'log',
      logBase: 10,
      position: 'bottom',
      min: xMin,
      max: xMax,
      name: 'gdpPercap',
      nameLocation: 'middle',
      nameGap: 62,
      nameTextStyle: { fontSize: 29, color: '#000000', fontFamily: FONT },
      axisLine: { show: false },
      axisTick: { show: true, inside: true, length: 12, customValues: xTicks,
        lineStyle: { color: '#333333', width: 1.6 } },
      axisLabel: {
        customValues: xTicks,
        margin: 16,
        fontSize: 23,
        color: '#4D4D4D',
        fontFamily: FONT,
        formatter: function (v) { return String(Math.round(v)); }
      },
      splitLine: { show: true, showMinLine: false, showMaxLine: false,
        lineStyle: { color: '#ffffff', width: 2 } },
      z: 2
    },
    {
      type: 'log',
      logBase: Math.sqrt(10),
      position: 'bottom',
      min: xMin,
      max: xMax,
      axisLine: { show: false },
      axisTick: { show: false },
      axisLabel: { show: false },
      splitLine: { show: true, showMinLine: false, showMaxLine: false,
        lineStyle: { color: '#ffffff', width: 1 } },
      z: 1
    }
  ],
  yAxis: [
    {
      type: 'value',
      position: 'left',
      min: yMin,
      max: yMax,
      splitNumber: 3,
      name: 'lifeExp',
      nameLocation: 'middle',
      nameGap: 60,
      nameTextStyle: { fontSize: 29, color: '#000000', fontFamily: FONT },
      axisLine: { show: false },
      axisTick: { show: true, inside: true, length: 12, customValues: yTicks,
        lineStyle: { color: '#333333', width: 1.6 } },
      axisLabel: {
        customValues: yTicks,
        margin: 5,
        fontSize: 23,
        color: '#4D4D4D',
        fontFamily: FONT
      },
      splitLine: { show: true, showMinLine: false, showMaxLine: false,
        lineStyle: { color: '#ffffff', width: 2 } },
      z: 2
    },
    {
      type: 'value',
      position: 'left',
      min: yMin,
      max: yMax,
      splitNumber: 6,
      axisLine: { show: false },
      axisTick: { show: false },
      axisLabel: { show: false },
      splitLine: { show: true, showMinLine: false, showMaxLine: false,
        lineStyle: { color: '#ffffff', width: 1 } },
      z: 1
    }
  ],
  series: series,
  graphic: graphics
};

chart.setOption(option);
</script>
</body>
</html>
